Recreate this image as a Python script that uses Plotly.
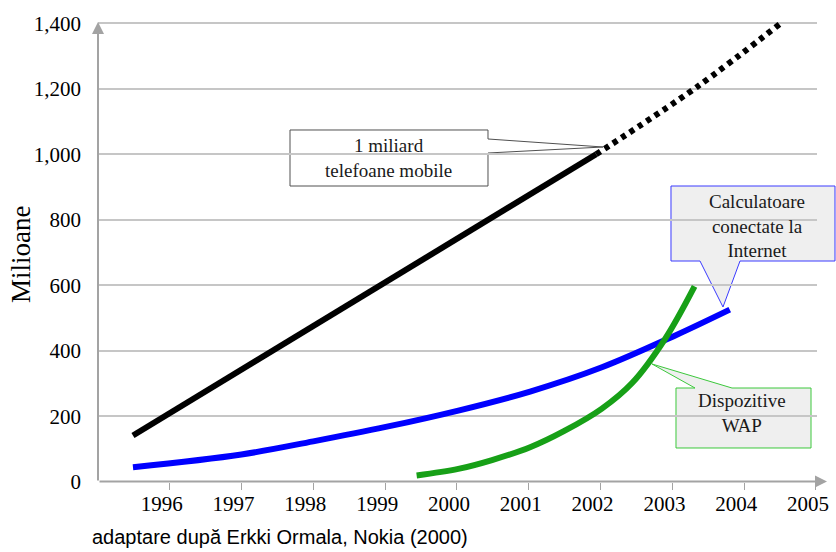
import plotly.graph_objects as go

# ---------------- data ----------------
years_ticks = [1996, 1997, 1998, 1999, 2000, 2001, 2002, 2003, 2004, 2005]
y_ticks = [0, 200, 400, 600, 800, 1000, 1200, 1400]
y_tick_text = ["0", "200", "400", "600", "800", "1,000", "1,200", "1,400"]

mobile_x = [1995.60, 2002.05]
mobile_y = [142, 1000]
mobile_proj_x = [2002.05, 2003.45, 2004.65]
mobile_proj_y = [1000, 1205, 1405]

internet_x = [1995.60, 1997.11, 1998.11, 1999.12, 2000.13, 2001.13, 2002.13, 2003.13, 2003.91]
internet_y = [45, 84, 124, 168, 218, 276, 350, 445, 526]

wap_x = [1999.55, 2000.13, 2000.6, 2001.13, 2001.6, 2002.13, 2002.55, 2003.01, 2003.42]
wap_y = [20, 40, 67, 106, 155, 224, 302, 437, 597]

# ---------------- layout geometry ----------------
W, H = 836, 552
ML, MR, MT, MB = 98, 19, 15, 70
PW, PH = W - ML - MR, H - MT - MB
X_RANGE = [1995.113, 2005.125]
Y_RANGE = [0, 1425]


def px(x, y):
    """pixel position -> paper coordinates (for decorations only)"""
    return (x - ML) / PW, (H - MB - y) / PH


def path(points):
    pts = [px(x, y) for x, y in points]
    return "M " + " L ".join(f"{a:.5f},{b:.5f}" for a, b in pts) + " Z"


fig = go.Figure()

fig.add_trace(go.Scatter(x=mobile_x, y=mobile_y, mode="lines",
                         line=dict(color="#000000", width=6), hoverinfo="skip"))
fig.add_trace(go.Scatter(x=mobile_proj_x, y=mobile_proj_y, mode="lines",
                         line=dict(color="#000000", width=6, dash="5px,5px", shape="spline"),
                         hoverinfo="skip"))
fig.add_trace(go.Scatter(x=internet_x, y=internet_y, mode="lines",
                         line=dict(color="#0000ff", width=6, shape="spline", smoothing=1),
                         hoverinfo="skip"))
fig.add_trace(go.Scatter(x=wap_x, y=wap_y, mode="lines",
                         line=dict(color="#17a017", width=6, shape="spline", smoothing=1),
                         hoverinfo="skip"))

serif = "Liberation Serif, Times New Roman, serif"

shapes = [
    dict(type="path", xref="paper", yref="paper", layer="below",
         path=path([(290, 130), (488, 130), (488, 139), (603, 147), (488, 153),
                    (488, 186), (290, 186)]),
         fillcolor="#ffffff", line=dict(color="#505050", width=1)),
    dict(type="path", xref="paper", yref="paper", layer="below",
         path=path([(671, 186), (835, 186), (835, 261), (740, 261), (723, 307),
                    (700, 261), (671, 261)]),
         fillcolor="#efefef", line=dict(color="#3a3aff", width=1)),
    dict(type="path", xref="paper", yref="paper", layer="below",
         path=path([(676, 388), (695, 388), (652, 364), (732, 388), (811, 388),
                    (811, 448), (676, 448)]),
         fillcolor="#efefef", line=dict(color="#3cc83c", width=1)),
]

annotations = []


def text_at(x, y, text, size=19, anchor="center", family=serif, color="#1a1a1a", angle=0):
    ax_, ay_ = px(x, y)
    annotations.append(dict(xref="paper", yref="paper", x=ax_, y=ay_, text=text,
                            showarrow=False, xanchor=anchor, yanchor="middle",
                            textangle=angle, align="center",
                            font=dict(family=family, size=size, color=color)))


text_at(388, 158, "1 miliard<br>telefoane mobile")
text_at(757, 226, "Calculatoare<br>conectate la<br>Internet")
text_at(742, 413, "Dispozitive<br>WAP")
text_at(21, 255, "Milioane", size=27, color="#000000", angle=-90)
text_at(90, 537, "adaptare după Erkki Ormala, Nokia (2000)", size=20, anchor="left",
        family="Liberation Sans, Arial, sans-serif", color="#000000")

# axis lines with arrow heads
hx, hy = px(827, 481.5)
annotations.append(dict(xref="paper", yref="paper", x=hx, y=hy, ax=-(827 - 98), ay=0,
                        text="", showarrow=True, arrowhead=2, arrowsize=1.2,
                        arrowwidth=2, arrowcolor="#a3a3a3"))
vx, vy = px(98, 22)
annotations.append(dict(xref="paper", yref="paper", x=vx, y=vy, ax=0, ay=(482 - 22),
                        text="", showarrow=True, arrowhead=2, arrowsize=1.2,
                        arrowwidth=2, arrowcolor="#a3a3a3"))

fig.update_layout(
    width=W, height=H,
    margin=dict(l=ML, r=MR, t=MT, b=MB, autoexpand=False),
    paper_bgcolor="#ffffff",
    plot_bgcolor="rgba(0,0,0,0)",
    showlegend=False,
    shapes=shapes,
    annotations=annotations,
    xaxis=dict(range=X_RANGE, tickmode="array", tickvals=years_ticks,
               ticktext=[str(v) for v in years_ticks], ticks="",
               showgrid=False, zeroline=False, showline=False, automargin=False,
               ticklabelstandoff=7,
               tickfont=dict(family=serif, size=21, color="#000000"),
               minor=dict(tickmode="array", tickvals=[v + 0.111 for v in years_ticks],
                          ticks="outside", ticklen=7, tickwidth=1,
                          tickcolor="#a3a3a3", showgrid=False)),
    yaxis=dict(range=Y_RANGE, tickmode="array", tickvals=y_ticks, ticktext=y_tick_text,
               ticks="", showgrid=True, gridcolor="#c6c6c6", gridwidth=1.5,
               zeroline=False, showline=False, automargin=False, ticklabelstandoff=16,
               tickfont=dict(family=serif, size=21, color="#000000")),
)

fig.write_html("out.html", config={"displayModeBar": False},
               post_script="document.body.style.margin='0';")
